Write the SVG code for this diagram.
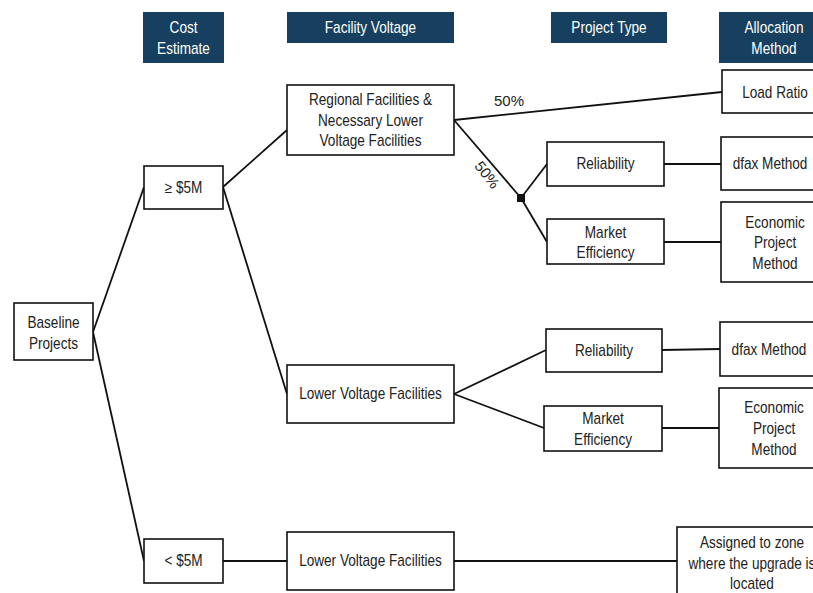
<svg xmlns="http://www.w3.org/2000/svg" width="813" height="593" viewBox="0 0 813 593">
<style>
.hdr rect{fill:#173f5f}
.hdr text{fill:#fff}
text{font-family:"Liberation Sans",Arial,sans-serif;font-size:16px;text-anchor:middle;fill:#222}
.hdr text,.node text{transform-box:fill-box;transform-origin:center;transform:scaleX(0.85)}
.node rect{fill:#fff;stroke:#111;stroke-width:1.6}
#connectors line{stroke:#111;stroke-width:1.8}
.lbl{font-size:15px}
</style>
<rect width="813" height="593" fill="#fff"/>
<g id="h-cost" class="hdr"><rect x="143" y="12" width="81" height="51"/><text x="183.5" y="33">Cost</text><text x="183.5" y="54">Estimate</text></g>
<g id="h-volt" class="hdr"><rect x="287" y="12" width="167" height="31"/><text x="370.5" y="33">Facility Voltage</text></g>
<g id="h-type" class="hdr"><rect x="551" y="12" width="116" height="31"/><text x="609" y="33">Project Type</text></g>
<g id="h-alloc" class="hdr"><rect x="719" y="12" width="94" height="51"/><text x="774" y="33">Allocation</text><text x="774" y="54">Method</text></g>

<g id="connectors">
<line x1="93" y1="332" x2="144" y2="187"/>
<line x1="93" y1="332" x2="144" y2="561"/>
<line x1="223" y1="187" x2="287" y2="130"/>
<line x1="223" y1="187" x2="287" y2="394"/>
<line x1="223" y1="561" x2="287" y2="561"/>
<line x1="454" y1="561" x2="677" y2="561"/>
<line x1="454" y1="120" x2="722" y2="92"/>
<line x1="454" y1="120" x2="521" y2="198"/>
<line x1="521" y1="198" x2="547" y2="164"/>
<line x1="521" y1="198" x2="547" y2="242"/>
<line x1="664" y1="164" x2="721" y2="164"/>
<line x1="664" y1="242" x2="721" y2="242"/>
<line x1="454" y1="394" x2="546" y2="350"/>
<line x1="454" y1="394" x2="544" y2="428"/>
<line x1="662" y1="350" x2="720" y2="349"/>
<line x1="662" y1="428" x2="719" y2="428"/>
<rect x="517" y="194" width="8" height="8" fill="#111"/>
<text class="lbl" x="509" y="106">50%</text>
<text class="lbl" transform="translate(483,178) rotate(52)">50%</text>
</g>

<g id="baseline" class="node"><rect x="14" y="303" width="79" height="57"/><text x="53.5" y="328">Baseline</text><text x="53.5" y="349">Projects</text></g>
<g id="ge5m" class="node"><rect x="144" y="166" width="79" height="43"/><text x="183.5" y="193">≥ $5M</text></g>
<g id="lt5m" class="node"><rect x="144" y="539" width="79" height="44"/><text x="183.5" y="566">&lt; $5M</text></g>
<g id="regional" class="node"><rect x="287" y="85" width="167" height="70"/><text x="370.5" y="105">Regional Facilities &amp;</text><text x="370.5" y="126">Necessary Lower</text><text x="370.5" y="146">Voltage Facilities</text></g>
<g id="lvf-mid" class="node"><rect x="287" y="365" width="167" height="58"/><text x="370.5" y="399">Lower Voltage Facilities</text></g>
<g id="lvf-bot" class="node"><rect x="287" y="532" width="167" height="58"/><text x="370.5" y="566">Lower Voltage Facilities</text></g>
<g id="loadratio" class="node"><rect x="722" y="70" width="95" height="43"/><text x="775" y="98">Load Ratio</text></g>
<g id="rel1" class="node"><rect x="547" y="142" width="117" height="44"/><text x="605.5" y="169">Reliability</text></g>
<g id="me1" class="node"><rect x="547" y="219" width="117" height="45"/><text x="605.5" y="238">Market</text><text x="605.5" y="258">Efficiency</text></g>
<g id="dfax1" class="node"><rect x="721" y="137" width="96" height="53"/><text x="770" y="169">dfax Method</text></g>
<g id="econ1" class="node"><rect x="721" y="202" width="96" height="80"/><text x="775" y="228">Economic</text><text x="775" y="248">Project</text><text x="775" y="269">Method</text></g>
<g id="rel2" class="node"><rect x="546" y="329" width="116" height="43"/><text x="604" y="356">Reliability</text></g>
<g id="me2" class="node"><rect x="544" y="406" width="118" height="45"/><text x="603" y="424">Market</text><text x="603" y="445">Efficiency</text></g>
<g id="dfax2" class="node"><rect x="720" y="322" width="97" height="54"/><text x="769" y="355">dfax Method</text></g>
<g id="econ2" class="node"><rect x="719" y="388" width="98" height="80"/><text x="774" y="413">Economic</text><text x="774" y="434">Project</text><text x="774" y="455">Method</text></g>
<g id="assigned" class="node"><rect x="677" y="527" width="140" height="70"/><text x="752" y="548">Assigned to zone</text><text x="752" y="569">where the upgrade is</text><text x="752" y="589">located</text></g>
</svg>
